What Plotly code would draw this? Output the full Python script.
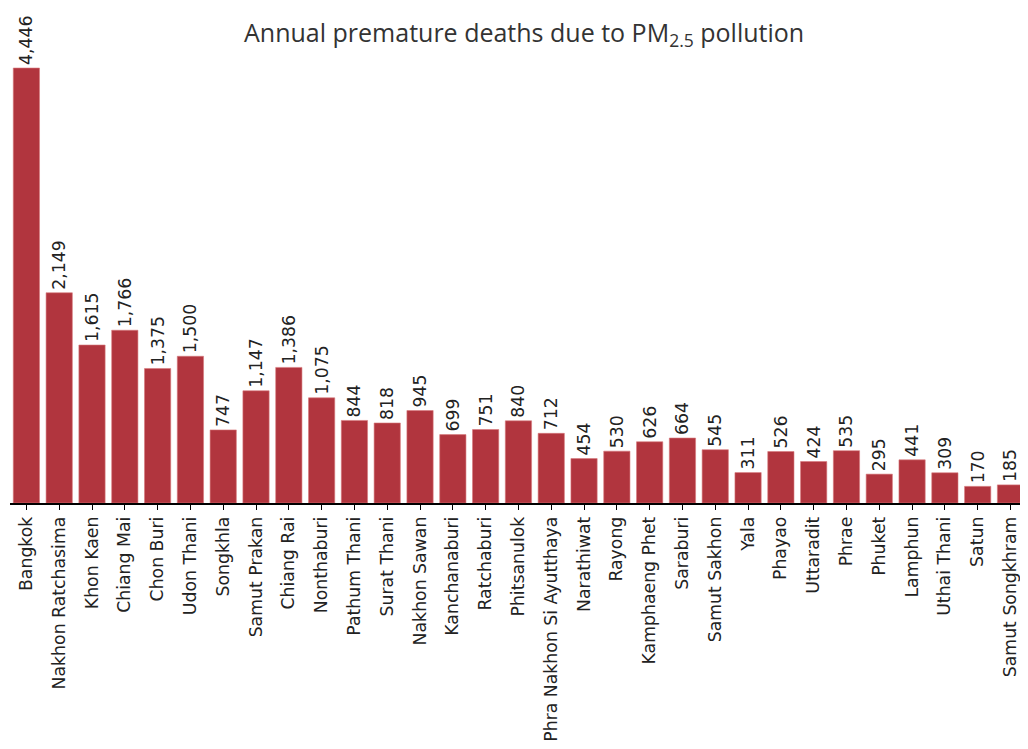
import plotly.graph_objects as go

provinces = [
    "Bangkok", "Nakhon Ratchasima", "Khon Kaen", "Chiang Mai", "Chon Buri",
    "Udon Thani", "Songkhla", "Samut Prakan", "Chiang Rai", "Nonthaburi",
    "Pathum Thani", "Surat Thani", "Nakhon Sawan", "Kanchanaburi", "Ratchaburi",
    "Phitsanulok", "Phra Nakhon Si Ayutthaya", "Narathiwat", "Rayong",
    "Kamphaeng Phet", "Saraburi", "Samut Sakhon", "Yala", "Phayao", "Uttaradit",
    "Phrae", "Phuket", "Lamphun", "Uthai Thani", "Satun", "Samut Songkhram",
]
deaths = [
    4446, 2149, 1615, 1766, 1375, 1500, 747, 1147, 1386, 1075,
    844, 818, 945, 699, 751, 840, 712, 454, 530, 626,
    664, 545, 311, 526, 424, 535, 295, 441, 309, 170, 185,
]

fig = go.Figure(go.Bar(
    x=provinces, y=deaths,
    marker=dict(color="#b1353e", line=dict(color="#d7787c", width=0.6)),
    texttemplate="%{y:,}", textposition="outside", textangle=-90,
    constraintext="none",
    textfont=dict(family="DejaVu Sans", size=17.3, color="#222"),
    cliponaxis=False,
))

# page body has an 8px margin; keep the figure small enough to avoid scrollbars
fig.update_layout(
    width=1012, height=733,
    margin=dict(l=2, r=0, t=52, b=238),
    paper_bgcolor="white", plot_bgcolor="white",
    bargap=0.2,
    showlegend=False,
    title=dict(text="Annual premature deaths due to PM<sub>2.5</sub> pollution",
               x=0.51, xanchor="center", y=0.966, yanchor="middle",
               font=dict(family="Open Sans", size=25, color="#333")),
    xaxis=dict(range=[-0.5, 30.29], tickangle=-90, showline=True, linecolor="black",
               linewidth=1.5, ticks="outside", ticklen=5, tickcolor="black",
               tickfont=dict(family="DejaVu Sans", size=17.3, color="#222"),
               showgrid=False, automargin=False),
    yaxis=dict(range=[0, 4528], visible=False),
)

fig.write_html("out.html")
